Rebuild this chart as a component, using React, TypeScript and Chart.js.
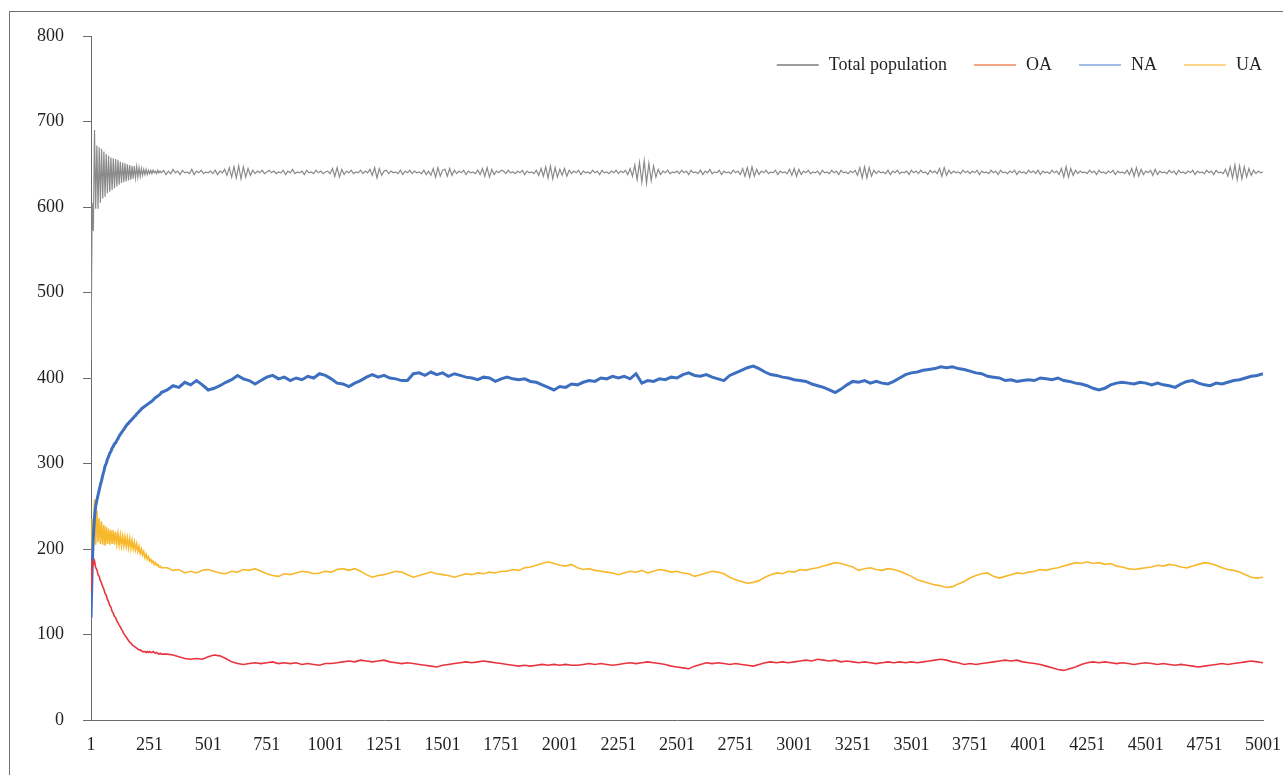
import React, { useEffect, useRef } from "react";
import { Chart, registerables } from "chart.js";

Chart.register(...registerables);

// Sampling grids (simulation step numbers)
const STEPS_EARLY: number[] = Array.from({ length: 61 }, (_, i) => 1 + 5 * i);
const STEPS_LATE: number[] = Array.from({ length: 188 }, (_, i) => 326 + 25 * i);
const STEPS: number[] = [...STEPS_EARLY, ...STEPS_LATE];
const TOTAL_STEPS_LATE: number[] = Array.from({ length: 470 }, (_, i) => 311 + 10 * i);
const TOTAL_STEPS: number[] = [...STEPS_EARLY, ...TOTAL_STEPS_LATE];

const X_TICKS: number[] = [1, 251, 501, 751, 1001, 1251, 1501, 1751, 2001, 2251, 2501, 2751, 3001, 3251, 3501, 3751, 4001, 4251, 4501, 4751, 5001];

const SERIES_LABELS: string[] = ["Total population", "OA", "NA", "UA"];

const TOTAL_EARLY: number[] = [
  420, 605, 572, 690, 598, 672, 598, 670, 605, 668, 610, 665, 612, 662, 616, 660, 618, 658, 620, 657,
  622, 656, 624, 655, 626, 653, 628, 652, 629, 651, 630, 650, 631, 649, 632, 648, 633, 648, 634, 647,
  635, 646, 636, 645, 637, 644, 638, 644, 638, 643, 639, 643, 639, 643, 640, 642, 639, 643, 640, 642, 640,
];
const TOTAL_LATE: number[] = [
  643, 638, 642, 639, 644, 640, 642, 638, 643, 640, 641, 639, 644, 638, 642, 640, 643, 639, 641, 640,
  642, 639, 643, 638, 642, 640, 644, 637, 646, 635, 647, 634, 648, 633, 647, 635, 645, 637, 643, 639, 642, 640, 643, 639, 641,
  643, 640, 642, 639, 641, 640, 643, 638, 642, 640, 644, 639, 641, 640, 642, 638, 643, 640, 641, 639, 643, 640, 642, 639, 641,
  642, 639, 645, 636, 646, 635, 644, 638, 642, 640, 643, 639, 641, 640, 643, 639, 642, 640, 644, 637, 646, 634, 645, 637, 642,
  643, 639, 642, 640, 641, 639, 643, 638, 642, 640, 643, 639, 642, 640, 641, 639, 643, 638, 642, 637, 645, 635, 646, 636, 643,
  644, 636, 645, 637, 643, 639, 642, 640, 643, 638, 642, 640, 641, 639, 643, 638, 645, 636, 646, 635, 644, 638, 642, 640, 643,
  642, 639, 643, 640, 641, 639, 642, 640, 643, 638, 642, 640, 641, 639, 643, 637, 645, 636, 647, 634, 648, 633, 646, 635, 644,
  637, 645, 636, 643, 639, 642, 640, 643, 638, 642, 640, 641, 639, 643, 640, 642, 638, 643, 640, 641, 639, 642, 640, 643, 639,
  642, 640, 643, 638, 645, 636, 649, 632, 652, 629, 654, 628, 651, 631, 648, 635, 644, 638, 642, 640, 643, 639, 641, 640, 642,
  639, 643, 640, 642, 638, 643, 640, 641, 639, 643, 638, 642, 640, 644, 639, 641, 640, 643, 638, 642, 640, 641, 639, 643, 640,
  642, 638, 645, 636, 646, 635, 647, 636, 644, 638, 642, 640, 643, 639, 641, 640, 643, 638, 642, 640, 641, 639, 644, 637, 645,
  636, 644, 638, 642, 640, 643, 639, 641, 640, 642, 638, 643, 640, 641, 639, 643, 640, 642, 638, 643, 640, 641, 639, 642, 640,
  643, 637, 646, 634, 647, 634, 646, 636, 643, 639, 642, 640, 641, 639, 643, 638, 642, 640, 643, 639, 641, 640, 642, 638, 643,
  640, 642, 639, 643, 640, 641, 638, 643, 640, 642, 639, 645, 636, 646, 637, 643, 639, 642, 640, 641, 639, 643, 640, 642, 639,
  642, 640, 643, 638, 642, 640, 641, 639, 643, 640, 642, 638, 643, 640, 641, 639, 642, 640, 643, 638, 642, 640, 641, 639, 643,
  640, 642, 639, 643, 638, 642, 640, 641, 639, 643, 640, 642, 638, 645, 635, 647, 635, 645, 637, 643, 639, 642, 640, 641, 639,
  643, 640, 642, 638, 643, 640, 641, 639, 642, 640, 643, 638, 642, 640, 641, 639, 643, 638, 645, 636, 646, 636, 644, 638, 642,
  640, 643, 637, 644, 638, 642, 640, 641, 639, 643, 640, 642, 638, 643, 640, 641, 639, 642, 640, 643, 638, 642, 640, 641, 639,
  643, 640, 642, 638, 643, 640, 641, 639, 644, 636, 647, 634, 649, 632, 648, 633, 647, 635, 645, 637, 643, 639, 642, 640, 641,
];

const OA_EARLY: number[] = [
  150, 186, 182, 186, 178, 176, 170, 168, 163, 160, 156, 153, 148, 146, 141, 138, 134, 132, 127, 125,
  121, 120, 116, 114, 111, 109, 106, 104, 101, 99, 97, 95, 93, 91, 90, 88, 87, 86, 85, 84,
  83, 82, 82, 81, 80, 80, 80, 79, 80, 79, 80, 79, 79, 80, 79, 78, 79, 78, 77, 78, 77,
];
const OA_LATE: number[] = [
  77, 76, 74, 72, 71, 72, 71, 74,
  76, 75, 72, 68, 66, 65, 66, 67, 66, 67,
  68, 66, 67, 66, 67, 65, 66, 65, 64, 66,
  66, 67, 68, 69, 68, 70, 69, 68, 69, 70,
  68, 67, 66, 67, 66, 65, 64, 63, 62, 64,
  65, 66, 67, 68, 67, 68, 69, 68, 67, 66,
  65, 64, 63, 64, 63, 64, 65, 64, 65, 64,
  65, 64, 64, 65, 66, 65, 66, 65, 64, 65,
  66, 67, 66, 67, 68, 67, 66, 65, 63, 62,
  61, 60, 63, 65, 67, 66, 67, 66, 65, 66,
  65, 64, 63, 65, 67, 68, 67, 68, 67, 68,
  69, 70, 69, 71, 70, 69, 70, 68, 69, 68,
  67, 68, 67, 66, 67, 68, 67, 68, 67, 68,
  67, 68, 69, 70, 71, 70, 68, 67, 65, 66,
  65, 66, 67, 68, 69, 70, 69, 70, 68, 67,
  66, 65, 63, 61, 59, 58, 60, 62, 65, 67,
  68, 67, 68, 67, 66, 67, 66, 65, 66, 67,
  66, 65, 66, 65, 64, 65, 64, 63, 62, 63,
  64, 65, 66, 65, 66, 67, 68, 69, 68, 67,
];

const NA_EARLY: number[] = [
  120, 178, 215, 238, 250, 257, 263, 269, 275, 280, 286, 291, 297, 300, 305, 308, 312, 314, 318, 320,
  323, 324, 327, 329, 332, 334, 336, 338, 340, 342, 344, 346, 347, 349, 350, 352, 353, 355, 356, 358,
  359, 361, 362, 364, 365, 366, 367, 368, 369, 370, 371, 372, 373, 374, 376, 377, 378, 379, 380, 381, 383,
];
const NA_LATE: number[] = [
  386, 391, 389, 395, 392, 397, 392, 386,
  388, 391, 395, 398, 403, 399, 397, 393, 397, 401,
  403, 399, 401, 397, 400, 398, 402, 400, 405, 403,
  399, 394, 393, 390, 394, 397, 401, 404, 401, 403,
  400, 399, 397, 397, 405, 406, 403, 407, 404, 406,
  402, 405, 403, 401, 400, 398, 401, 400, 396, 399,
  401, 399, 398, 399, 396, 395, 392, 389, 386, 390,
  389, 393, 392, 395, 397, 396, 400, 399, 402, 400,
  402, 399, 405, 394, 397, 396, 399, 398, 401, 400,
  404, 406, 403, 402, 404, 401, 399, 397, 403, 406,
  409, 412, 414, 411, 407, 404, 403, 401, 400, 398,
  397, 396, 393, 391, 389, 386, 383, 387, 392, 396,
  395, 397, 394, 396, 394, 393, 396, 400, 404, 406,
  407, 409, 410, 411, 413, 412, 413, 411, 410, 408,
  406, 405, 402, 401, 400, 397, 398, 396, 397, 398,
  397, 400, 399, 398, 400, 397, 396, 394, 393, 391,
  388, 386, 388, 392, 394, 395, 394, 393, 395, 394,
  392, 394, 392, 391, 389, 393, 396, 397, 394, 392,
  391, 394, 393, 395, 397, 398, 400, 402, 403, 405,
];

const UA_EARLY: number[] = [
  140, 235, 210, 258, 205, 245, 208, 236, 206, 232, 205, 228, 204, 226, 206, 224, 205, 222, 206, 222,
  205, 220, 206, 218, 205, 216, 204, 215, 204, 214, 203, 213, 202, 212, 201, 210, 200, 208, 199, 206,
  197, 203, 195, 200, 193, 197, 190, 194, 188, 191, 186, 188, 184, 186, 182, 184, 181, 182, 179, 180, 178,
];
const UA_LATE: number[] = [
  178, 175, 176, 172, 174, 172, 175, 176,
  174, 172, 171, 174, 173, 176, 175, 177, 174, 171,
  169, 168, 171, 170, 172, 174, 173, 171, 172, 174,
  173, 176, 177, 175, 177, 174, 170, 167, 169, 170,
  172, 174, 173, 170, 167, 169, 171, 173, 171, 170,
  169, 167, 169, 171, 170, 172, 171, 173, 172, 174,
  174, 176, 175, 178, 179, 181, 183, 185, 183, 181,
  180, 182, 178, 176, 177, 175, 174, 173, 172, 170,
  172, 174, 173, 175, 172, 174, 176, 175, 173, 174,
  172, 171, 168, 170, 172, 174, 173, 171, 167, 164,
  162, 160, 161, 163, 167, 170, 172, 171, 174, 173,
  176, 175, 177, 178, 180, 182, 184, 183, 181, 179,
  175, 177, 178, 176, 175, 177, 176, 174, 171, 168,
  164, 162, 160, 158, 157, 155, 156, 159, 162, 166,
  169, 171, 172, 168, 166, 168, 170, 172, 171, 173,
  174, 176, 175, 177, 178, 180, 182, 184, 183, 185,
  183, 184, 182, 183, 180, 179, 177, 176, 177, 178,
  179, 181, 180, 182, 181, 179, 178, 180, 182, 184,
  183, 181, 178, 176, 175, 173, 170, 167, 166, 167,
];

const TOTAL: number[] = [...TOTAL_EARLY, ...TOTAL_LATE];
const OA: number[] = [...OA_EARLY, ...OA_LATE];
const NA: number[] = [...NA_EARLY, ...NA_LATE];
const UA: number[] = [...UA_EARLY, ...UA_LATE];

const LINE_COLORS = ["#8a8a8a", "#e8343f", "#3d6fc1", "#f8b82c"];
const LEGEND_COLORS = ["#9c9c9c", "#f4a487", "#a3bde3", "#fcd88c"];
const LINE_WIDTHS = [1.2, 1.6, 3.0, 1.6];

const FONT_FAMILY = '"Liberation Serif", "Times New Roman", serif';
const AXIS_COLOR = "#6a6a6a";
const TEXT_COLOR = "#231f20";

const legendPlugin = {
  id: "refLegend",
  afterDatasetsDraw(chart: any) {
    const { ctx, chartArea } = chart;
    ctx.save();
    ctx.font = `18px ${FONT_FAMILY}`;
    ctx.textBaseline = "middle";
    ctx.textAlign = "left";
    const y = chartArea.top + 29;
    const ds = chart.data.datasets;
    let x = chartArea.right - 1;
    const items: any[] = [];
    for (let i = ds.length - 1; i >= 0; i--) {
      const w = ctx.measureText(ds[i].label).width;
      const textX = x - w;
      const lineEnd = textX - 10;
      const lineStart = lineEnd - 42;
      items.unshift({ text: ds[i].label, color: LEGEND_COLORS[i], textX, lineStart, lineEnd });
      x = lineStart - 27;
    }
    for (const it of items) {
      ctx.strokeStyle = it.color;
      ctx.lineWidth = 2;
      ctx.beginPath();
      ctx.moveTo(it.lineStart, y);
      ctx.lineTo(it.lineEnd, y);
      ctx.stroke();
      ctx.fillStyle = TEXT_COLOR;
      ctx.fillText(it.text, it.textX, y);
    }
    ctx.restore();
  },
};

export default function App() {
  const canvasRef = useRef<HTMLCanvasElement | null>(null);

  useEffect(() => {
    const canvas = canvasRef.current;
    if (!canvas) return;
    const seriesValues = [TOTAL, OA, NA, UA];
    const seriesSteps = [TOTAL_STEPS, STEPS, STEPS, STEPS];
    const chart = new Chart(canvas, {
      type: "line",
      data: {
        datasets: SERIES_LABELS.map((label, k) => ({
          label,
          data: seriesSteps[k].map((s, i) => ({ x: s, y: seriesValues[k][i] })),
          borderColor: LINE_COLORS[k],
          backgroundColor: LINE_COLORS[k],
          borderWidth: LINE_WIDTHS[k],
          pointRadius: 0,
          tension: 0,
          fill: false,
        })),
      },
      options: {
        animation: false,
        responsive: false,
        devicePixelRatio: 1,
        layout: { padding: { top: 24, right: 20, bottom: 0, left: 0 } },
        plugins: {
          legend: { display: false },
          tooltip: { enabled: false },
        },
        scales: {
          x: {
            type: "linear",
            min: 1,
            max: 5001,
            afterBuildTicks: (scale: any) => {
              scale.ticks = X_TICKS.map((v) => ({ value: v }));
            },
            afterFit: (scale: any) => {
              scale.height = 55;
              scale.paddingLeft = 0;
              scale.paddingRight = 0;
            },
            grid: { display: true, drawOnChartArea: false, drawTicks: false },
            border: { display: true, color: AXIS_COLOR, width: 1 },
            ticks: {
              autoSkip: false,
              maxRotation: 0,
              minRotation: 0,
              padding: 14,
              color: TEXT_COLOR,
              font: { family: FONT_FAMILY, size: 18 },
              callback: (v: any) => String(v),
            },
          },
          y: {
            min: 0,
            max: 800,
            afterFit: (scale: any) => {
              scale.width = 81;
              scale.paddingTop = 0;
              scale.paddingBottom = 0;
            },
            grid: { display: true, drawOnChartArea: false, drawTicks: true, tickLength: 8, color: AXIS_COLOR },
            border: { display: true, color: AXIS_COLOR, width: 1 },
            ticks: {
              stepSize: 100,
              padding: 19,
              color: TEXT_COLOR,
              font: { family: FONT_FAMILY, size: 18 },
            },
          },
        },
      },
      plugins: [legendPlugin],
    } as any);
    return () => chart.destroy();
  }, []);

  return (
    <div
      style={{
        position: "absolute",
        left: 9,
        top: 11,
        width: 1274,
        height: 764,
        borderLeft: "1px solid #6f6f6f",
        borderTop: "1px solid #6f6f6f",
        boxSizing: "border-box",
        background: "#ffffff",
        overflow: "hidden",
      }}
    >
      <canvas ref={canvasRef} width={1273} height={763} style={{ display: "block" }} />
    </div>
  );
}
